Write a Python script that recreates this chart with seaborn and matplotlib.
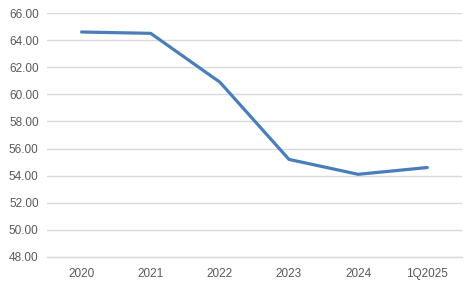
import matplotlib
matplotlib.use("Agg")
import matplotlib.pyplot as plt
import seaborn as sns
import pandas as pd

categories = ["2020", "2021", "2022", "2023", "2024", "1Q2025"]
values = [64.6, 64.5, 60.9, 55.2, 54.1, 54.6]
y_ticks = [48, 50, 52, 54, 56, 58, 60, 62, 64, 66]

sns.set_theme(style="white")
plt.rcParams['font.family'] = ['Liberation Sans', 'DejaVu Sans']

df = pd.DataFrame({"cat": categories, "val": values})

fig = plt.figure(figsize=(4.67, 2.83), dpi=100)
ax = fig.add_axes([0.1006, 0.0919, 0.8884, 0.8621])
sns.lineplot(data=df, x="cat", y="val", ax=ax, color="#4A7EBB", linewidth=2.3, sort=False)

ax.set_xlim(-0.5, len(categories) - 0.5)
ax.set_ylim(48, 66)
ax.set_yticks(y_ticks)
ax.set_yticklabels([f"{v:.2f}" for v in y_ticks])
ax.yaxis.grid(True, color="#D9D9D9", linewidth=1.0)
ax.set_axisbelow(True)
for name, s in ax.spines.items():
    s.set_visible(name == "bottom")
ax.spines["bottom"].set_color("#D9D9D9")
ax.spines["bottom"].set_linewidth(1.0)
ax.tick_params(axis="both", length=0, labelsize=8.5, colors="#595959")
ax.tick_params(axis="y", pad=6)
ax.tick_params(axis="x", pad=8)
ax.set_xlabel("")
ax.set_ylabel("")

fig.savefig("out.png", dpi=100)
